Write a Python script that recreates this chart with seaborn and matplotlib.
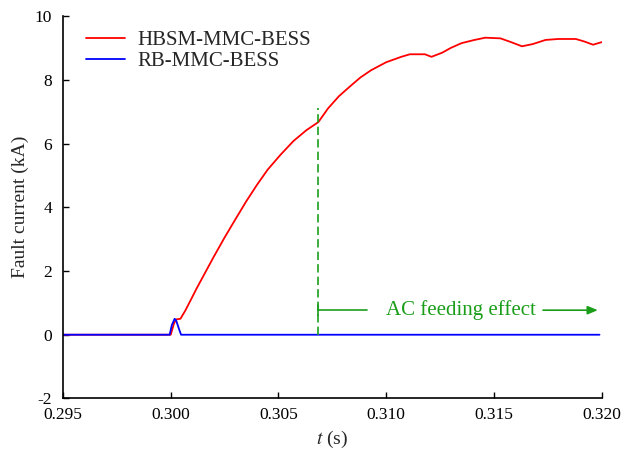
import matplotlib
matplotlib.use("Agg")
import matplotlib.pyplot as plt
import seaborn as sns
import pandas as pd

# --- data ---
t_hbsm = [0.295, 0.3000, 0.30015, 0.30025, 0.30045, 0.30067, 0.3009, 0.3012, 0.3016,
          0.3020, 0.3025, 0.3030, 0.3035, 0.3040, 0.3045, 0.3051, 0.3057, 0.3063,
          0.30685, 0.3073, 0.3078, 0.3083, 0.3088, 0.3093, 0.3100, 0.3107, 0.3111,
          0.3118, 0.3121, 0.3126, 0.3130, 0.3135, 0.3141, 0.3146, 0.3153, 0.3158,
          0.3163, 0.3168, 0.3174, 0.3180, 0.3188, 0.3192, 0.3196, 0.3200]
i_hbsm = [0.0, 0.0, 0.35, 0.48, 0.50, 0.75, 1.05, 1.45, 1.95,
          2.45, 3.05, 3.62, 4.18, 4.70, 5.18, 5.65, 6.08, 6.42,
          6.67, 7.10, 7.48, 7.78, 8.07, 8.30, 8.55, 8.72, 8.80,
          8.80, 8.72, 8.85, 9.00, 9.15, 9.25, 9.32, 9.30, 9.18,
          9.05, 9.12, 9.25, 9.28, 9.28, 9.20, 9.10, 9.18]

t_rb = [0.295, 0.29995, 0.30005, 0.30018, 0.30025, 0.3004, 0.30048, 0.3199]
i_rb = [0.0, 0.0, 0.30, 0.50, 0.45, 0.15, 0.0, 0.0]

t_fault = 0.30685
xticks = [0.295, 0.300, 0.305, 0.310, 0.315, 0.320]
yticks = [-2, 0, 2, 4, 6, 8, 10]

df_h = pd.DataFrame({"t": t_hbsm, "i": i_hbsm})
df_r = pd.DataFrame({"t": t_rb, "i": i_rb})

sns.set_style("white")
plt.rcParams['font.family'] = ['Liberation Serif', 'DejaVu Serif']
plt.rcParams['mathtext.fontset'] = 'stix'
plt.rcParams['axes.unicode_minus'] = False

fig, ax = plt.subplots(figsize=(6.3, 4.58), dpi=100)
sns.lineplot(data=df_h, x="t", y="i", color="#ff0000", lw=1.3, sort=False,
             estimator=None, ax=ax, label="HBSM-MMC-BESS")
sns.lineplot(data=df_r, x="t", y="i", color="#0000ff", lw=1.3, sort=False,
             estimator=None, ax=ax, label="RB-MMC-BESS")

# AC feeding marker
green = "#1a9e1a"
ax.plot([t_fault, t_fault], [0, 7.1], color=green, ls=(0, (5, 2.5)), lw=1.2)
ax.plot([t_fault, t_fault], [0.62, 0.92], color=green, lw=1.2)
ax.plot([t_fault, 0.3091], [0.77, 0.77], color=green, lw=1.2)
ax.annotate("", xy=(0.31995, 0.77), xytext=(0.31715, 0.77),
            arrowprops=dict(arrowstyle="-|>,head_length=0.6,head_width=0.25",
                            color=green, lw=1.2))
ax.text(0.31345, 0.77, "AC feeding effect", color=green, fontsize=15,
        ha="center", va="center")

ax.set_xlim(0.295, 0.320)
ax.set_ylim(-2, 10)
ax.set_xticks(xticks)
ax.set_xticklabels([f"{v:.3f}" for v in xticks])
ax.set_yticks(yticks)
ax.tick_params(direction="in", length=4, labelsize=12.5, width=1,
               bottom=True, left=True, colors="black")
ax.tick_params(axis="y", pad=8)
ax.tick_params(axis="x", pad=6.5)
ax.set_xlabel("$t$ (s)", fontsize=14)
ax.set_ylabel("Fault current (kA)", fontsize=14)
for s in ["top", "right"]:
    ax.spines[s].set_visible(False)
for s in ["left", "bottom"]:
    ax.spines[s].set_color("black")
    ax.spines[s].set_linewidth(1.2)

ax.legend(loc="upper left", frameon=False, fontsize=15, handlelength=1.9,
          handletextpad=0.6, borderaxespad=0.3, labelspacing=0.05,
          bbox_to_anchor=(0.015, 1.0))

fig.subplots_adjust(left=0.1, right=0.955, top=0.965, bottom=0.13)
fig.savefig("out.png", dpi=100)
